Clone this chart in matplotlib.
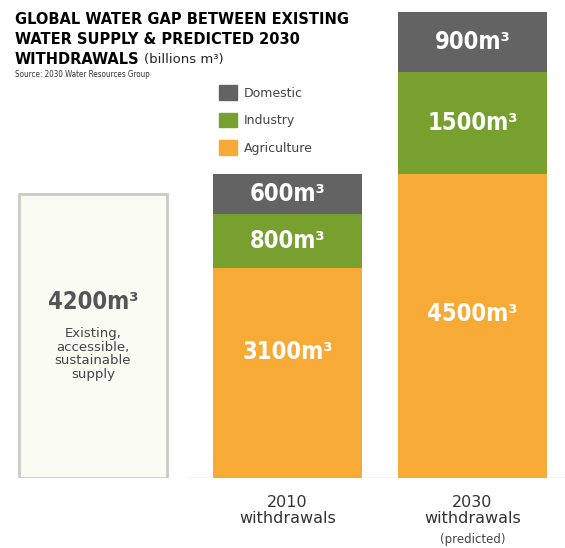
import matplotlib.pyplot as plt
from matplotlib.patches import Patch

# data (billions m3)
categories = ['2010\nwithdrawals', '2030\nwithdrawals']
agriculture = [3100, 4500]
industry = [800, 1500]
domestic = [600, 900]
supply = 4200
supply_text = 'Existing,\naccessible,\nsustainable\nsupply'
title_lines = ['GLOBAL WATER GAP BETWEEN EXISTING', 'WATER SUPPLY & PREDICTED 2030', 'WITHDRAWALS']

# colours
c_dom = '#636363'
c_ind = '#77a02f'
c_agr = '#f7ab36'

W, H = 565, 548
base_px = 478          # baseline, pixels from top
px_per_unit = 0.0676

fig = plt.figure(figsize=(W / 100, H / 100), dpi=100)
ax = fig.add_axes([0, (H - base_px) / H, 1, base_px / H])
ax.set_xlim(0, W)
ax.set_ylim(0, base_px / px_per_unit)
ax.axis('off')

xs = [287.5, 472.5]
width = 149
agr_label_frac = [0.6, 0.54]

cond = dict(family='DejaVu Sans', stretch='condensed', weight='bold')

# existing supply box
ax.bar(93, supply, width=148, color='#fafcf4', edgecolor='#c9cbc6', linewidth=2, zorder=2)
ax.text(93, supply * 0.62, '4200m³', ha='center', va='center', color='#555555',
        fontsize=17, **cond)
ax.text(93, supply * 0.437, supply_text, ha='center', va='center', color='#444444',
        fontsize=9.5, linespacing=1.05)

# stacked bars
ax.bar(xs, agriculture, width=width, color=c_agr, zorder=2)
ax.bar(xs, industry, width=width, bottom=agriculture, color=c_ind, zorder=2)
bot2 = [a + b for a, b in zip(agriculture, industry)]
ax.bar(xs, domestic, width=width, bottom=bot2, color=c_dom, zorder=2)

for i, x in enumerate(xs):
    ax.text(x, agriculture[i] * agr_label_frac[i], f'{agriculture[i]}m³', ha='center',
            va='center', color='white', fontsize=17, **cond)
    ax.text(x, agriculture[i] + industry[i] / 2, f'{industry[i]}m³', ha='center',
            va='center', color='white', fontsize=17, **cond)
    ax.text(x, bot2[i] + domestic[i] / 2, f'{domestic[i]}m³', ha='center',
            va='center', color='white', fontsize=17, **cond)

ax.axhline(0, xmin=190 / W, xmax=1, color='#c8c8c8', linewidth=1, zorder=1)

# x labels
for i, x in enumerate(xs):
    fig.text(x / W, 1 - 495 / H, categories[i], ha='center', va='top', fontsize=11.5,
             color='#333333', linespacing=1.05)
fig.text(xs[1] / W, 1 - 533 / H, '(predicted)', ha='center', va='top', fontsize=8.5,
         color='#444444')

# title, one line at a time
for k, line in enumerate(title_lines):
    t = fig.text(15 / W, 1 - (12 + 20 * k) / H, line, ha='left', va='top', fontsize=11.7,
                 color='black', **cond)
fig.canvas.draw()
bb = t.get_window_extent()
fig.text((bb.x1 + 4) / W, 1 - 53 / H, '(billions m³)', ha='left', va='top', fontsize=9.5,
         color='#222222')
fig.text(15 / W, 1 - 70 / H, 'Source: 2030 Water Resources Group', ha='left', va='top',
         fontsize=5.8, color='#333333', stretch='condensed')

# legend
handles = [Patch(color=c_dom, label='Domestic'), Patch(color=c_ind, label='Industry'),
           Patch(color=c_agr, label='Agriculture')]
fig.legend(handles=handles, loc='upper left', bbox_to_anchor=(208 / W, 1 - 74 / H),
           frameon=False, fontsize=9, handlelength=1.4, handleheight=1.4,
           labelspacing=1.05, handletextpad=0.55, labelcolor='#444444')

fig.savefig('out.png', dpi=100)
